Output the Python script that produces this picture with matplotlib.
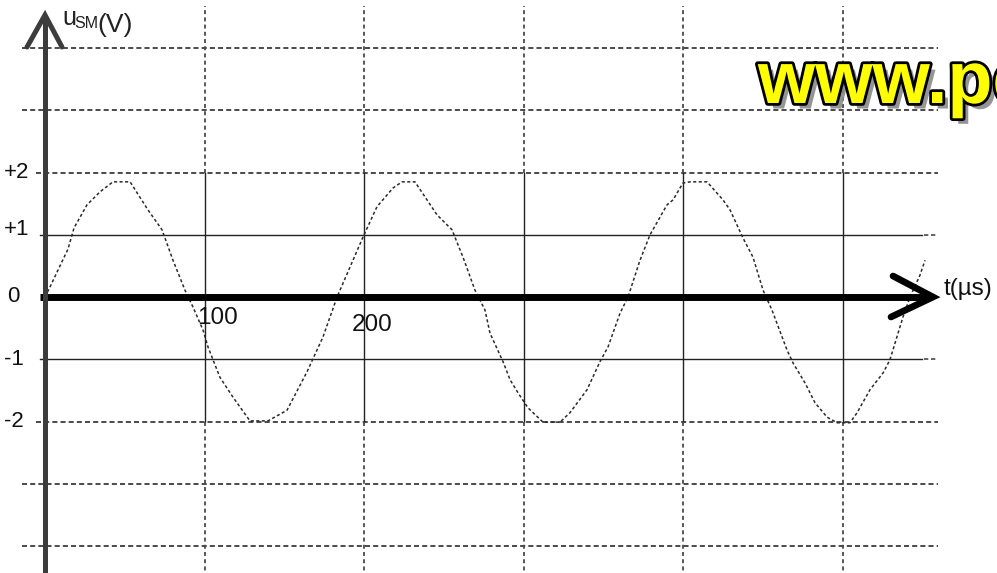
import matplotlib
matplotlib.use('Agg')
import matplotlib.pyplot as plt
import matplotlib.patheffects as pe

plt.rcParams['font.family'] = ['Liberation Sans', 'DejaVu Sans']

# curve u_SM(t): t in microseconds, u in volts
t_us = [0, 3.1, 14.4, 18.2, 26.3, 34.5, 42.6, 53.3, 64.5, 73.3, 80.2, 87.7,
        92.7, 99.0, 102.1, 109.6, 117.8, 128.4, 139.7, 151.6, 164.2, 174.2,
        183.0, 191.1, 199.2, 208.0, 218.0, 223.7, 231.8, 245.6, 255.0, 261.9,
        269.4, 275.7, 278.8, 287.0, 291.4, 296.4, 302.6, 312.0, 322.7, 328.9,
        339.6, 347.7, 352.8, 360.3, 365.3, 372.8, 379.1, 389.7, 393.5, 399.7,
        404.1, 414.8, 424.8, 429.2, 437.3, 443.6, 449.9, 455.5, 464.9, 468.7,
        476.2, 482.5, 490.0, 496.2, 504.4, 508.8, 516.9, 525.1, 529.4, 537.6,
        542.0, 548.2, 551.4]
u_volts = [0, 0.16, 0.77, 1.11, 1.48, 1.69, 1.85, 1.85, 1.40, 1.08, 0.59, 0.11,
           -0.16, -0.53, -0.80, -1.29, -1.61, -1.99, -1.99, -1.82, -1.20, -0.64,
           0, 0.48, 0.96, 1.45, 1.75, 1.85, 1.85, 1.32, 1.08, 0.64,
           0.11, -0.21, -0.58, -1.04, -1.33, -1.54, -1.78, -2.01, -2.01, -1.86,
           -1.49, -1.04, -0.80, -0.26, 0, 0.59, 1.00, 1.48, 1.56, 1.83,
           1.85, 1.85, 1.56, 1.40, 0.95, 0.64, 0.11, -0.21, -0.85, -1.06,
           -1.38, -1.70, -1.93, -2.02, -2.02, -1.86, -1.49, -1.22, -1.01, -0.32,
           0, 0.35, 0.59]

grid_t = [100, 200, 300, 400, 500]
grid_u_solid = [1, -1]
grid_u_dashed = [4, 3, 2, -2, -3, -4]
u_tick_values = [2, 1, 0, -1, -2]
u_tick_labels = ['+2', '+1', '0', '-1', '-2']
t_tick_values = [100, 200]
t_tick_labels = ['100', '200']

# pixel layout of the scanned sheet
X0, XS = 45, 1.596    # px of t=0, px per microsecond
Y0, YS = 297, 62.25   # px of u=0, px per volt
W, H = 997, 573


def tx(px):
    return (px - X0) / XS


def uy(py):
    return (Y0 - py) / YS


fig = plt.figure(figsize=(W / 100, H / 100), dpi=100)
ax = fig.add_axes([0, 0, 1, 1])
ax.set_xlim(tx(0), tx(W))
ax.set_ylim(uy(H), uy(0))
ax.axis('off')

dash = (0, (2.6, 1.6))
grid_col = '#4a4a4a'

# horizontal grid
for u in grid_u_dashed:
    start = tx(36) if abs(u) == 2 else tx(22)
    ax.plot([start, tx(938)], [u, u], color=grid_col, lw=1.4, linestyle=dash)
for u in grid_u_solid:
    ax.plot([tx(40), tx(922)], [u, u], color='#222222', lw=1.0)
    ax.plot([tx(924), tx(938)], [u, u], color=grid_col, lw=1.2, linestyle=dash)

# vertical grid: solid between -2 and +2, dashed outside
for t in grid_t:
    ax.plot([t, t], [-2, 2], color='#222222', lw=1.0)
    ax.plot([t, t], [2, uy(6)], color=grid_col, lw=1.3, linestyle=(0, (2.2, 1.8)))
    ax.plot([t, t], [-2, uy(H)], color=grid_col, lw=1.3, linestyle=(0, (2.2, 1.8)))

# signal
ax.plot(t_us, u_volts, color='#2a2a2a', lw=1.1, linestyle=(0, (2.0, 1.6)))

# time axis with open arrow head
ax.plot([tx(40), tx(930)], [0, 0], color='black', lw=5, solid_capstyle='butt')
ax.plot([tx(893), tx(933), tx(891)], [uy(276), 0, uy(317)], color='black',
        lw=4.8, solid_capstyle='round', solid_joinstyle='miter')

# voltage axis with open arrow head
ax.plot([0, 0], [uy(H), uy(16)], color='#3c3c3c', lw=3.6, solid_capstyle='butt')
ax.plot([tx(27), 0, tx(62)], [uy(47), uy(15), uy(47)], color='#3c3c3c',
        lw=3.6, solid_capstyle='round', solid_joinstyle='miter')

# labels
for v, lab in zip(u_tick_values, u_tick_labels):
    xpos = tx(7) if v == 0 else tx(4)
    ypos = v + 0.08 if v == 1 else v
    ax.text(xpos, ypos, lab, fontsize=16, ha='left', va='center', color='#111111')
label_u = {100: uy(318), 200: uy(325)}
label_x = {100: tx(197), 200: tx(352)}
for v, lab in zip(t_tick_values, t_tick_labels):
    ax.text(label_x[v], label_u[v], lab, fontsize=17.5, ha='left', va='center',
            color='#111111')

ax.text(tx(944), uy(289), 't(µs)', fontsize=17.5, ha='left', va='center', color='#111111')

fig.text(62 / W, 1 - 25 / H, 'u', fontsize=18, ha='left', va='baseline', color='#222222')
fig.text(74 / W, 1 - 28 / H, 'SM', fontsize=11.5, ha='left', va='baseline', color='#222222')
fig.text(97 / W, 1 - 32 / H, '(V)', fontsize=19, ha='left', va='baseline', color='#222222')

# watermark
fig.text(758 / W, 1 - 103 / H, 'www.pe', fontsize=53, fontweight='bold',
         color='#ffff00', ha='left', va='baseline',
         path_effects=[pe.SimplePatchShadow(offset=(4, -4), shadow_rgbFace='#8a8a8a', alpha=0.9),
                       pe.Stroke(linewidth=4, foreground='black'),
                       pe.Normal()])

fig.savefig('out.png', dpi=100)
